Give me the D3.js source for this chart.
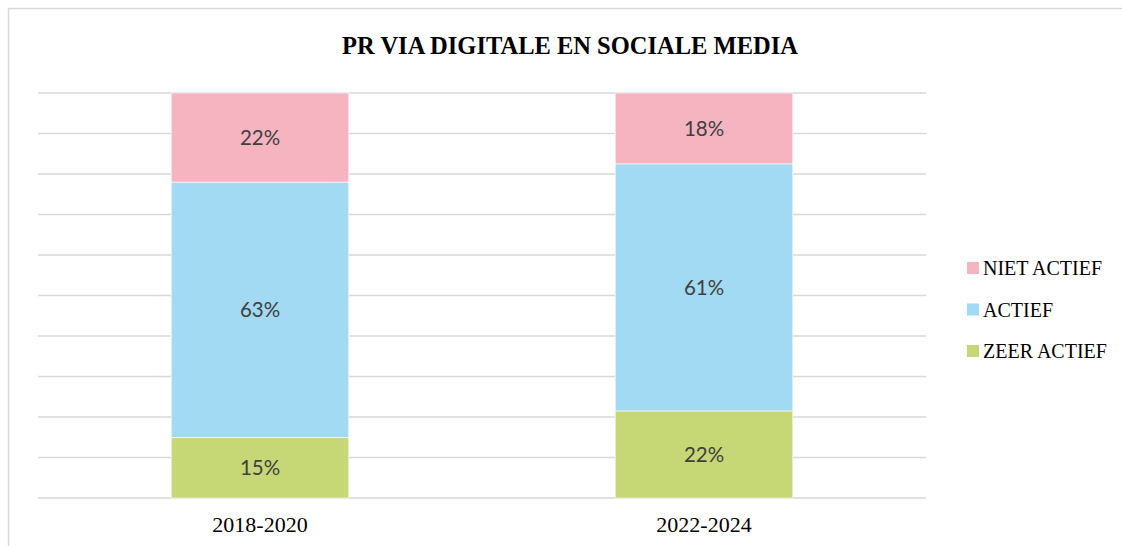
<!DOCTYPE html>
<html>
<head>
<meta charset="utf-8">
<script src="https://cdn.jsdelivr.net/npm/d3@7"></script>
<style>
    html, body { margin: 0; padding: 0; background: #ffffff; }
    .chart__title { font-family: "Liberation Serif", serif; font-weight: bold; font-size: 24.5px; fill: #000000; }
    .chart__grid line { stroke: #d9d9d9; stroke-width: 1.3; }
    .chart__valueText { font-family: "Lato", "Liberation Sans", sans-serif; font-size: 20.5px; fill: #404040; }
    .chart__axisText { font-family: "Liberation Serif", serif; font-size: 22px; fill: #000000; }
    .chart__legendText { font-family: "Liberation Serif", serif; font-size: 20px; fill: #000000; }
</style>
</head>
<body>
<div class="chart"></div>
<script>
// chart data
const categories = ["2018-2020", "2022-2024"];
const seriesNames = ["ZEER ACTIEF", "ACTIEF", "NIET ACTIEF"];
const zeerActief = [15, 21.5];
const actief = [63, 61];
const nietActief = [22, 17.5];
const gridTicks = [0, 10, 20, 30, 40, 50, 60, 70, 80, 90, 100];

const seriesColours = {
    "ZEER ACTIEF": "#c6d776",
    "ACTIEF": "#a2d9f3",
    "NIET ACTIEF": "#f6b4c1"
};

// ----- DRAW ----------------------------------------------
function _drawStackedChart()
{
    const width = 1122,
        height = 546;
    const plot = {
        left: 38,
        right: 926,
        top: 93,
        bottom: 498
    };

    // build table for the stack layout
    let table = categories.map( (c, i) => {
        return {
            category: c,
            "ZEER ACTIEF": zeerActief[i],
            "ACTIEF": actief[i],
            "NIET ACTIEF": nietActief[i]
        };
    });

    let stacked = d3.stack()
        .keys( seriesNames )( table );

    let x = d3.scaleBand()
        .domain( categories )
        .range([ plot.left, plot.right ])
        .paddingInner(0.6)
        .paddingOuter(0.3);

    let y = d3.scaleLinear()
        .domain([0, 100])
        .range([ plot.bottom, plot.top ]);

    let svg = d3.select(".chart").append("svg")
        .attr("width", width)
        .attr("height", height);

    // outer chart frame
    svg.append("rect")
        .attr("x", 8.5)
        .attr("y", 8.5)
        .attr("width", width + 20)
        .attr("height", height + 20)
        .attr("fill", "none")
        .attr("stroke", "#d9d9d9")
        .attr("stroke-width", 1.5);

    // title
    svg.append("text")
        .classed("chart__title", true)
        .attr("x", 570)
        .attr("y", 54)
        .attr("text-anchor", "middle")
        .text("PR VIA DIGITALE EN SOCIALE MEDIA");

    // horizontal gridlines
    svg.append("g")
        .classed("chart__grid", true)
        .selectAll("line")
        .data( gridTicks )
        .enter()
            .append("line")
            .attr("x1", plot.left)
            .attr("x2", plot.right)
            .attr("y1", d => y(d))
            .attr("y2", d => y(d));

    // stacked bars
    let layer = svg.selectAll(".chart__layer")
        .data( stacked )
        .enter()
            .append("g")
            .classed("chart__layer", true)
            .attr("fill", d => seriesColours[d.key]);

    layer.selectAll("rect")
        .data( d => d )
        .enter()
            .append("rect")
            .attr("x", d => x(d.data.category))
            .attr("width", x.bandwidth())
            .attr("y", d => y(d[1]))
            .attr("height", d => y(d[0]) - y(d[1]))
            .attr("stroke", "#ffffff")
            .attr("stroke-width", 0.6);

    // value labels
    layer.selectAll("text")
        .data( d => d )
        .enter()
            .append("text")
            .classed("chart__valueText", true)
            .attr("x", d => x(d.data.category) + x.bandwidth() / 2)
            .attr("y", d => ( y(d[0]) + y(d[1]) ) / 2)
            .attr("dy", "0.36em")
            .attr("text-anchor", "middle")
            .text( d => d3.format(".0f")( d[1] - d[0] ) + "%" );

    // category labels
    svg.append("g")
        .selectAll("text")
        .data( categories )
        .enter()
            .append("text")
            .classed("chart__axisText", true)
            .attr("x", d => x(d) + x.bandwidth() / 2)
            .attr("y", 532)
            .attr("text-anchor", "middle")
            .text( d => d );

    // legend (reverse order, top to bottom)
    let legend = svg.append("g")
        .attr("transform", "translate(967, 262)");

    let legendItem = legend.selectAll("g")
        .data( seriesNames.slice().reverse() )
        .enter()
            .append("g")
            .attr("transform", (d, i) => "translate(0," + ( i * 41.5 ) + ")");

    legendItem.append("rect")
        .attr("width", 12)
        .attr("height", 12)
        .attr("fill", d => seriesColours[d]);

    legendItem.append("text")
        .classed("chart__legendText", true)
        .attr("x", 16)
        .attr("y", 13)
        .text( d => d );
}

_drawStackedChart();
</script>
</body>
</html>
